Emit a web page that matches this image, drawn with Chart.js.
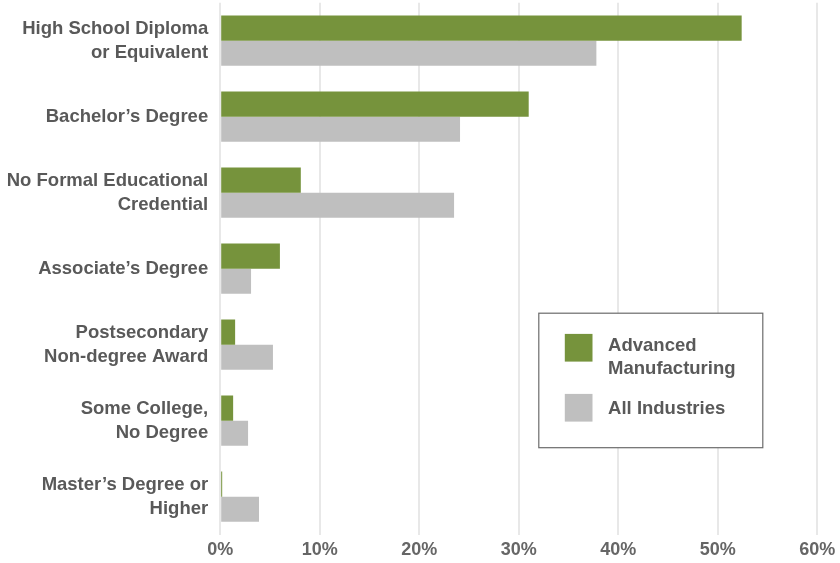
<!DOCTYPE html>
<html>
<head>
<meta charset="utf-8">
<script src="https://cdn.jsdelivr.net/npm/chart.js@4.4.1/dist/chart.umd.min.js"></script>
<style>
  html, body { margin: 0; padding: 0; background: #fff; }
  #wrap { width: 840px; height: 563px; position: relative; }
</style>
</head>
<body>
<div id="wrap"><canvas id="c" width="840" height="563"></canvas></div>
<script>
const categories = [
  ["High School Diploma", "or Equivalent"],
  ["Bachelor\u2019s Degree"],
  ["No Formal Educational", "Credential"],
  ["Associate\u2019s Degree"],
  ["Postsecondary", "Non-degree Award"],
  ["Some College,", "No Degree"],
  ["Master\u2019s Degree or", "Higher"]
];
const seriesNames = [["Advanced", "Manufacturing"], ["All Industries"]];
const advancedManufacturing = [52.4, 31.0, 8.1, 6.0, 1.5, 1.3, 0.2];
const allIndustries = [37.8, 24.1, 23.5, 3.1, 5.3, 2.8, 3.9];
const xTicks = [0, 10, 20, 30, 40, 50, 60];

const GREEN = "#76933C";
const GRAY = "#BFBFBF";
const TEXT = "#595959";
const FONT = "'Liberation Sans', Arial, sans-serif";

const legendBox = {
  id: "legendBox",
  afterDraw(chart) {
    const ctx = chart.ctx;
    const a = chart.chartArea;
    const left = a.right - 278.5, top = a.top + 310.5, w = 224, h = 134.5;
    ctx.save();
    ctx.fillStyle = "#fff";
    ctx.fillRect(left, top, w, h);
    ctx.strokeStyle = "#6b6b6b";
    ctx.lineWidth = 1.2;
    ctx.strokeRect(left, top, w, h);
    ctx.font = "bold 18.5px " + FONT;
    ctx.textBaseline = "alphabetic";
    ctx.textAlign = "left";
    const ds = chart.data.datasets;
    const sqY = [top + 20.7, top + 80.7];
    const baseY = [top + 37.4, top + 100.7];
    ds.forEach((d, i) => {
      ctx.fillStyle = d.backgroundColor;
      ctx.fillRect(left + 26, sqY[i], 27.7, 27.7);
      ctx.fillStyle = TEXT;
      const lines = seriesNames[i];
      lines.forEach((ln, j) => ctx.fillText(ln, left + 69.3, baseY[i] + j * 23.5));
    });
    ctx.restore();
  }
};

new Chart(document.getElementById("c"), {
  type: "bar",
  data: {
    labels: categories,
    datasets: [
      { label: seriesNames[0].join(" "), data: advancedManufacturing, backgroundColor: GREEN, borderWidth: 0 },
      { label: seriesNames[1].join(" "), data: allIndustries, backgroundColor: GRAY, borderWidth: 0 }
    ]
  },
  options: {
    indexAxis: "y",
    responsive: false,
    animation: false,
    devicePixelRatio: 1,
    categoryPercentage: 0.66,
    barPercentage: 1.0,
    layout: { padding: { top: 2.7, right: 22.7, left: 0, bottom: 0 } },
    plugins: { legend: { display: false }, tooltip: { enabled: false } },
    scales: {
      x: {
        min: 0, max: 60,
        afterBuildTicks(scale) { scale.ticks = xTicks.map(v => ({ value: v })); },
        afterFit(scale) { scale.height = 28.3; scale.paddingLeft = 0; scale.paddingRight = 0; },
        grid: { color: "#e8e8e8", lineWidth: 2, drawTicks: false },
        border: { display: false },
        ticks: {
          padding: 5,
          color: "#666666",
          font: { family: FONT, size: 18, weight: "bold" },
          callback: v => v + "%"
        }
      },
      y: {
        afterFit(scale) { scale.width = 220.2; scale.paddingTop = 0; scale.paddingBottom = 0; },
        grid: { display: false, drawTicks: false },
        border: { display: false },
        ticks: {
          padding: 12,
          color: TEXT,
          font: { family: FONT, size: 18.5, weight: "bold", lineHeight: 1.27 }
        }
      }
    }
  },
  plugins: [legendBox]
});
</script>
</body>
</html>
